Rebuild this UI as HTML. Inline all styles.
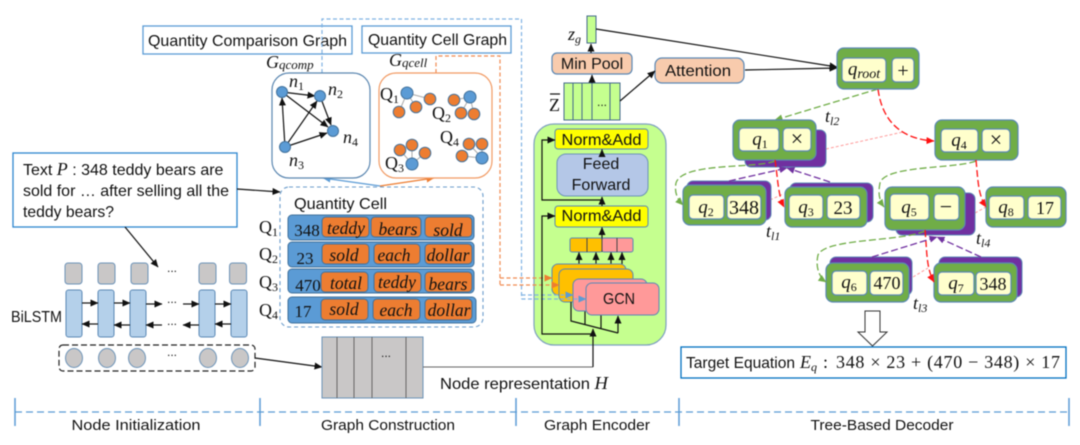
<!DOCTYPE html>
<html><head><meta charset="utf-8"><style>
html,body{margin:0;padding:0;background:#fff;width:1080px;height:445px;overflow:hidden}
svg{display:block;filter:blur(.45px)}
text{font-family:"Liberation Sans",sans-serif;fill:#111}
.t{font-size:16px}
.c{font-size:16px;text-anchor:middle}
.b{font-size:15px;text-anchor:middle}
.d{font-size:12px;text-anchor:middle}
.m{font-family:"Liberation Serif",serif;font-style:italic;font-size:18px}
.mc{font-family:"Liberation Serif",serif;font-style:italic;font-size:19px;text-anchor:middle}
.n{font-family:"Liberation Serif",serif;font-size:17px;text-anchor:middle}
.q{font-family:"Liberation Serif",serif;font-size:18px}
.s{font-size:12px;font-family:"Liberation Serif",serif}
.w{font-family:"Liberation Serif",serif;font-style:italic;font-size:17.5px;text-anchor:middle}
.o{fill:#ed7d31;stroke:#41719c;stroke-width:1}
.bl{fill:#5b9bd5;stroke:#41719c;stroke-width:1}
.g{fill:#70ad47;stroke:#5b88b5;stroke-width:1.2}
.p{fill:#7030a0;stroke:#5b88b5;stroke-width:1}
.y{fill:#ffffcc;stroke:#5b88b5;stroke-width:1.2}
.gr{fill:#c9c7c7;stroke:#6c93b8;stroke-width:1}
.lb{fill:#b4d0ea;stroke:#5b88b5;stroke-width:1}
.k{stroke:#111;stroke-width:1.2;fill:none}
.ka{stroke:#111;stroke-width:1.2;fill:none;marker-end:url(#mk)}
.ye{fill:#ffff00;stroke:#5b88b5;stroke-width:1}
.pe{fill:#f8cbad;stroke:#5b88b5;stroke-width:1.2}
.lg{fill:#c5ff8f;stroke:#44688c;stroke-width:1}
.pk{fill:#ff9999;stroke:#5b88b5;stroke-width:1}
.au{fill:#ffc000;stroke:#5b88b5;stroke-width:1}
.dg{stroke:#70ad47;stroke-width:1.3;fill:none;stroke-dasharray:7 3;marker-end:url(#mg)}
.dr{stroke:#ff1010;stroke-width:1.3;fill:none;stroke-dasharray:7 3;marker-end:url(#mr)}
.dp{stroke:#7030a0;stroke-width:1.3;fill:none;stroke-dasharray:7 3;marker-end:url(#mp)}
.dl{stroke:#ff9a9a;stroke-width:1;fill:none;stroke-dasharray:3 2}
.db{stroke:#7fb2e3;stroke-width:1.2;fill:none;stroke-dasharray:4 2.5}
.do{stroke:#f08a50;stroke-width:1.2;fill:none;stroke-dasharray:4 2.5}
</style></head><body>
<svg width="1080" height="445" viewBox="0 0 1080 445" xmlns="http://www.w3.org/2000/svg">
<defs>
<marker id="mk" markerUnits="userSpaceOnUse" markerWidth="9" markerHeight="8" refX="7.5" refY="3.5" orient="auto"><path d="M0 0L8 3.5L0 7z" fill="#111"/></marker>
<marker id="mg" markerUnits="userSpaceOnUse" markerWidth="9" markerHeight="8" refX="7.5" refY="3.5" orient="auto"><path d="M0 0L8 3.5L0 7z" fill="#70ad47"/></marker>
<marker id="mr" markerUnits="userSpaceOnUse" markerWidth="9" markerHeight="8" refX="7.5" refY="3.5" orient="auto"><path d="M0 0L8 3.5L0 7z" fill="#ff1010"/></marker>
<marker id="mp" markerUnits="userSpaceOnUse" markerWidth="9" markerHeight="8" refX="7.5" refY="3.5" orient="auto"><path d="M0 0L8 3.5L0 7z" fill="#7030a0"/></marker>
<marker id="mb" markerUnits="userSpaceOnUse" markerWidth="9" markerHeight="8" refX="7.5" refY="3.5" orient="auto"><path d="M0 0L8 3.5L0 7z" fill="#5b9bd5"/></marker>
<marker id="mo" markerUnits="userSpaceOnUse" markerWidth="9" markerHeight="8" refX="7.5" refY="3.5" orient="auto"><path d="M0 0L8 3.5L0 7z" fill="#ed7d31"/></marker>
</defs>

<!-- title boxes -->
<rect x="143" y="26" width="209" height="28" fill="none" stroke="#5b9bd5" stroke-width="1.3"/>
<text x="148" y="46" class="t" textLength="199" lengthAdjust="spacingAndGlyphs">Quantity Comparison Graph</text>
<rect x="362" y="26" width="149" height="27" fill="#fff" stroke="#5b9bd5" stroke-width="1.3"/>
<text x="368" y="45" class="t" textLength="139" lengthAdjust="spacingAndGlyphs">Quantity Cell Graph</text>

<!-- dashed connectors to GCN -->
<path class="db" d="M322 73V19H521.500V299"/>
<path class="do" d="M436 73V56H500V285"/>

<text x="266" y="68" class="m">G<tspan class="s" dy="1" style="font-size:13px;font-style:italic">qcomp</tspan></text>
<text x="389" y="66" class="m">G<tspan class="s" dy="1" style="font-size:13px;font-style:italic">qcell</tspan></text>

<path d="M380 186L323 178" stroke="#5b9bd5" stroke-width="1.2" fill="none" marker-end="url(#mb)"/>
<path d="M380 186L434 178" stroke="#ed7d31" stroke-width="1.2" fill="none" marker-end="url(#mo)"/>

<!-- graph boxes -->
<rect x="272" y="73" width="98" height="105" rx="17" fill="#fff" stroke="#5a86b0" stroke-width="1.2"/>
<rect x="379" y="73" width="113" height="105" rx="17" fill="#fff" stroke="#f19a63" stroke-width="1.2"/>
<path class="ka" d="M282 92L315 96"/>
<path class="ka" d="M282 92L328 127"/>
<path class="ka" d="M320 96L331 125"/>
<path class="ka" d="M285 147L282 98"/>
<path class="ka" d="M285 147L317 101"/>
<path class="ka" d="M285 147L327 133"/>
<circle cx="282" cy="92" r="5.500" class="bl"/><circle cx="320" cy="96" r="5.500" class="bl"/>
<circle cx="333" cy="131" r="5.500" class="bl"/><circle cx="285" cy="147" r="5.500" class="bl"/>
<text x="289" y="87" class="m">n<tspan class="s" dy="3" style="font-style:normal">1</tspan></text>
<text x="328" y="95" class="m">n<tspan class="s" dy="3" style="font-style:normal">2</tspan></text>
<text x="289" y="166" class="m">n<tspan class="s" dy="3" style="font-style:normal">3</tspan></text>
<text x="343" y="143" class="m">n<tspan class="s" dy="3" style="font-style:normal">4</tspan></text>

<g stroke="#aaa" stroke-width="1" fill="none">
<path d="M407 93L430 99M407 93L416 107M407 93L399 112"/>
<path d="M470 97L454 100M470 97L461 113M470 97L474 114"/>
<path d="M412 164L412 145M412 164L400 150M412 164L425 153"/>
<path d="M482 158L469 144M482 158L482 144M482 158L462 156"/>
</g>
<circle cx="430" cy="99" r="5.800" class="o"/><circle cx="416" cy="107" r="5.800" class="o"/><circle cx="399" cy="112" r="5.800" class="o"/>
<circle cx="454" cy="100" r="5.800" class="o"/><circle cx="461" cy="113" r="5.800" class="o"/><circle cx="474" cy="114" r="5.800" class="o"/>
<circle cx="412" cy="145" r="5.800" class="o"/><circle cx="400" cy="150" r="5.800" class="o"/><circle cx="425" cy="153" r="5.800" class="o"/>
<circle cx="469" cy="144" r="5.800" class="o"/><circle cx="482" cy="144" r="5.800" class="o"/><circle cx="462" cy="156" r="5.800" class="o"/>
<circle cx="407" cy="93" r="6" class="bl"/><circle cx="470" cy="97" r="6" class="bl"/><circle cx="412" cy="164" r="6" class="bl"/><circle cx="482" cy="158" r="6" class="bl"/>
<text x="380" y="100" class="q">Q<tspan class="s" dy="3">1</tspan></text>
<text x="432" y="119" class="q">Q<tspan class="s" dy="3">2</tspan></text>
<text x="385" y="169" class="q">Q<tspan class="s" dy="3">3</tspan></text>
<text x="440" y="143" class="q">Q<tspan class="s" dy="3">4</tspan></text>

<!-- text box -->
<rect x="13" y="153" width="224" height="74" fill="#fff" stroke="#2e86cf" stroke-width="1.3"/>
<text x="23" y="175" class="t">Text <tspan class="m">P</tspan> : 348 teddy bears are</text>
<text x="23" y="196" class="t" textLength="206" lengthAdjust="spacingAndGlyphs">sold for … after selling all the</text>
<text x="23" y="217" class="t" textLength="91" lengthAdjust="spacingAndGlyphs">teddy bears?</text>
<path class="ka" d="M237 189L280 192"/>
<path class="ka" d="M125 227L158 267"/>

<!-- BiLSTM -->
<rect x="65" y="263" width="17" height="21" rx="3" class="gr"/><rect x="98" y="263" width="17" height="21" rx="3" class="gr"/><rect x="131" y="263" width="17" height="21" rx="3" class="gr"/><rect x="199" y="263" width="17" height="21" rx="3" class="gr"/><rect x="229.500" y="263" width="17" height="21" rx="3" class="gr"/>
<rect x="66" y="290" width="16" height="47" rx="2.500" class="lb"/><rect x="98" y="290" width="16" height="47" rx="2.500" class="lb"/><rect x="130" y="290" width="16" height="47" rx="2.500" class="lb"/><rect x="199" y="290" width="16" height="47" rx="2.500" class="lb"/><rect x="231" y="290" width="16" height="47" rx="2.500" class="lb"/>
<path class="ka" d="M82 303L98 303"/><path class="ka" d="M114 303L130 303"/><path class="ka" d="M146 304L162 304"/><path class="ka" d="M183 304L199 304"/><path class="ka" d="M215 304L231 304"/>
<path class="ka" d="M98 324L82 324"/><path class="ka" d="M130 325L114 325"/><path class="ka" d="M162 325L146 325"/><path class="ka" d="M199 325L183 325"/><path class="ka" d="M231 324L215 324"/>
<text x="172" y="272" class="d">...</text><text x="172" y="303" class="d">...</text><text x="172" y="325" class="d">...</text><text x="172" y="356" class="d">...</text>
<text x="11" y="322" class="t" textLength="51" lengthAdjust="spacingAndGlyphs">BiLSTM</text>
<rect x="59" y="345" width="196" height="26" rx="4" fill="none" stroke="#222" stroke-width="1.2" stroke-dasharray="6 3"/>
<ellipse cx="74" cy="358" rx="8.500" ry="9.500" class="gr"/><ellipse cx="107" cy="358" rx="8.500" ry="9.500" class="gr"/><ellipse cx="137" cy="358" rx="8.500" ry="9.500" class="gr"/><ellipse cx="208" cy="358" rx="8.500" ry="9.500" class="gr"/><ellipse cx="240" cy="358" rx="8.500" ry="9.500" class="gr"/>
<path class="ka" d="M255 358L322 367"/>

<!-- Quantity Cell -->
<rect x="280" y="187" width="203" height="140" rx="9" fill="#fff" stroke="#6b9ccb" stroke-width="1.1" stroke-dasharray="4 3"/>
<text x="294" y="209" class="t" textLength="93" lengthAdjust="spacingAndGlyphs">Quantity Cell</text>
<text x="259" y="233" class="q">Q<tspan class="s" dy="3">1</tspan></text>
<text x="259" y="260" class="q">Q<tspan class="s" dy="3">2</tspan></text>
<text x="259" y="288" class="q">Q<tspan class="s" dy="3">3</tspan></text>
<text x="259" y="316" class="q">Q<tspan class="s" dy="3">4</tspan></text>
<rect x="288" y="215" width="186" height="25" rx="4" class="bl"/>
<rect x="288" y="242" width="186" height="25" rx="4" class="bl"/>
<rect x="288" y="269" width="186" height="24" rx="4" class="bl"/>
<rect x="288" y="297" width="188" height="26" rx="4" class="bl"/>
<rect x="322" y="217" width="47" height="20" rx="4" class="o"/><rect x="371" y="217" width="50" height="20" rx="4" class="o"/><rect x="425" y="217" width="47" height="20" rx="4" class="o"/>
<rect x="322" y="244" width="47" height="20" rx="4" class="o"/><rect x="374" y="244" width="46" height="20" rx="4" class="o"/><rect x="425" y="244" width="47" height="20" rx="4" class="o"/>
<rect x="321" y="272" width="47" height="20" rx="4" class="o"/><rect x="374" y="272" width="47" height="20" rx="4" class="o"/><rect x="425" y="272" width="47" height="20" rx="4" class="o"/>
<rect x="321" y="299" width="47" height="21" rx="4" class="o"/><rect x="373" y="299" width="47" height="21" rx="4" class="o"/><rect x="425" y="299" width="47" height="21" rx="4" class="o"/>
<text x="307" y="236" class="n">348</text><text x="305" y="264" class="n">23</text><text x="308" y="291" class="n">470</text><text x="303" y="317" class="n">17</text>
<text x="346" y="234" class="w">teddy</text><text x="398" y="235" class="w">bears</text><text x="448" y="236" class="w">sold</text>
<text x="344" y="261" class="w">sold</text><text x="394" y="261" class="w">each</text><text x="448" y="261" class="w">dollar</text>
<text x="346" y="289" class="w">total</text><text x="397" y="288" class="w">teddy</text><text x="448" y="290" class="w">bears</text>
<text x="344" y="315" class="w">sold</text><text x="396" y="316" class="w">each</text><text x="449" y="316" class="w">dollar</text>

<!-- Node representation -->
<rect x="322" y="337" width="101" height="61" fill="#c9c7c7" stroke="#6c93b8" stroke-width="1"/>
<path d="M337 337V398M354 337V398M372 337V398M406 337V398" stroke="#666" stroke-width="1" fill="none"/>
<text x="386" y="357" class="d">...</text>
<text x="440" y="389" class="t" textLength="168" lengthAdjust="spacingAndGlyphs">Node representation <tspan class="m">H</tspan></text>
<path d="M423 367H593" stroke="#666" stroke-width="1" fill="none"/>

<!-- Encoder -->
<rect x="534" y="124" width="132" height="221" rx="20" fill="#c5ff8f" stroke="#7d9fc0" stroke-width="1.2"/>
<rect x="555" y="129" width="93" height="20" rx="3" class="ye"/>
<text x="601.500" y="145" class="c" textLength="80" lengthAdjust="spacingAndGlyphs">Norm&amp;Add</text>
<rect x="557" y="154" width="91" height="42" rx="9" fill="#b4c7e7" stroke="#6c93b8"/>
<text x="601" y="169" class="c">Feed</text>
<text x="601" y="190" class="c">Forward</text>
<rect x="555" y="206" width="93" height="21" rx="3" class="ye"/>
<text x="601.500" y="221" class="c" textLength="80" lengthAdjust="spacingAndGlyphs">Norm&amp;Add</text>
<rect x="570" y="238" width="32" height="14" rx="2" class="au"/>
<rect x="602" y="238" width="31" height="14" rx="2" class="pk"/>
<path d="M587 238V252M602 238V252M617 238V252" stroke="#444" stroke-width="1" fill="none"/>
<path class="ka" d="M579 264V252.500"/><path class="ka" d="M596 264V252.500"/><path class="ka" d="M611 279V252.500"/><path class="ka" d="M622 283V252.500"/>
<rect x="552" y="264" width="74" height="31" rx="6" class="au"/>
<path class="do" d="M500 278H545"/>
<path d="M545 278H552" stroke="#ed7d31" stroke-width="1.2" fill="none" marker-end="url(#mo)"/>
<rect x="559" y="269" width="74" height="33" rx="6" class="au"/>
<path class="do" d="M500 285H552"/>
<path d="M552 285H559" stroke="#ed7d31" stroke-width="1.2" fill="none" marker-end="url(#mo)"/>
<path class="k" d="M571 302V321L618 333M585 311V325M601 315V329"/>
<rect x="573" y="279" width="74" height="32" rx="6" class="pk"/>
<path class="db" d="M521.500 295H566"/>
<path d="M566 295H573" stroke="#5b9bd5" stroke-width="1.2" fill="none" marker-end="url(#mb)"/>
<rect x="586" y="283" width="73" height="32" rx="6" class="pk"/>
<path class="db" d="M521.500 299H579"/>
<path d="M579 299H586" stroke="#5b9bd5" stroke-width="1.2" fill="none" marker-end="url(#mb)"/>
<text x="619" y="304" class="c" textLength="32" lengthAdjust="spacingAndGlyphs">GCN</text>
<path class="ka" d="M618 333V316"/>
<path class="ka" d="M593 367V329"/>
<path class="ka" d="M593 334H542V216H555"/>
<path class="ka" d="M602 206V197"/>
<path class="ka" d="M602 154V149.500"/>
<path class="ka" d="M602 238V227.500"/>
<path class="ka" d="M602 200H542V140H555"/>

<!-- Top encoder outputs -->
<rect x="564" y="83" width="56" height="37" class="lg"/>
<path d="M573 83V120M582 83V120M592 83V120M610 83V120" stroke="#44688c" stroke-width="1" fill="none"/>
<text x="602" y="106" class="d">...</text>
<text x="549" y="111" style="font-family:'Liberation Serif',serif;font-size:18px">Z</text>
<path d="M550 94H560" stroke="#111" stroke-width="1.2"/>
<path class="ka" d="M592 83V75"/>
<rect x="552" y="53" width="80" height="21" rx="5" class="pe"/>
<text x="592" y="69" class="c">Min Pool</text>
<path class="ka" d="M591 53V44"/>
<rect x="587" y="16" width="9" height="27" class="lg"/>
<text x="568" y="40" class="m">z<tspan class="s" dy="3" style="font-style:italic">g</tspan></text>
<rect x="655" y="58" width="89" height="25" rx="7" class="pe"/>
<text x="698" y="76" class="c" textLength="66" lengthAdjust="spacingAndGlyphs">Attention</text>
<path class="ka" d="M620 101L655 71"/>
<path class="ka" d="M596 29L837 67"/>
<path class="ka" d="M745 70L837 68"/>

<!-- Tree connectors -->
<path class="dl" d="M826 149L903 132"/>
<path class="dl" d="M770 200L783 194"/>
<path class="dl" d="M975 213L986 207"/>
<path class="dl" d="M913 277L928 268"/>
<path class="dg" d="M878 89L775 120"/>
<path class="dr" d="M878 89C882 120 900 139 934 141"/>

<!-- Tree nodes -->
<rect x="745" y="130" width="81" height="37" rx="6" class="p"/>
<rect x="733" y="120" width="83" height="40" rx="7" class="g"/>
<rect x="739" y="128" width="40" height="23" rx="4" class="y"/><rect x="783" y="128" width="28" height="23" rx="4" class="y"/>
<text x="760" y="145" class="mc">q<tspan class="s" dy="3" style="font-style:normal">1</tspan></text><text x="797" y="146" class="n" style="font-size:22px">×</text>

<rect x="935" y="120" width="83" height="40" rx="7" class="g"/>
<rect x="941" y="129" width="37" height="23" rx="4" class="y"/><rect x="982" y="129" width="28" height="23" rx="4" class="y"/>
<text x="959" y="146" class="mc">q<tspan class="s" dy="3" style="font-style:normal">4</tspan></text><text x="996" y="147" class="n" style="font-size:22px">×</text>

<rect x="837" y="48" width="82" height="41" rx="7" class="g"/>
<rect x="842" y="58" width="44" height="24" rx="4" class="y"/><rect x="892" y="58" width="22" height="24" rx="4" class="y"/>
<text x="864" y="75" class="mc">q<tspan class="s" dy="3" style="font-size:14px;font-style:italic">root</tspan></text><text x="903" y="77" class="n" style="font-size:20px">+</text>

<rect x="687" y="181" width="84" height="39" rx="6" class="p"/>
<rect x="683" y="185" width="83" height="40" rx="7" class="g"/>
<rect x="689" y="195" width="35" height="24" rx="4" class="y"/><rect x="727" y="195" width="34" height="24" rx="4" class="y"/>
<text x="706" y="213" class="mc">q<tspan class="s" dy="3" style="font-style:normal">2</tspan></text><text x="744" y="214" class="n" style="font-size:20px">348</text>

<rect x="790" y="183" width="83" height="39" rx="6" class="p"/>
<rect x="785" y="187" width="82" height="40" rx="7" class="g"/>
<rect x="789" y="195" width="34" height="24" rx="4" class="y"/><rect x="827" y="195" width="33" height="24" rx="4" class="y"/>
<text x="806" y="213" class="mc">q<tspan class="s" dy="3" style="font-style:normal">3</tspan></text><text x="843" y="214" class="n" style="font-size:19px">23</text>

<rect x="896" y="193" width="79" height="42" rx="6" class="p"/>
<rect x="885" y="187" width="80" height="43" rx="7" class="g"/>
<rect x="890" y="194" width="39" height="26" rx="4" class="y"/><rect x="934" y="194" width="25" height="26" rx="4" class="y"/>
<text x="909" y="213" class="mc">q<tspan class="s" dy="3" style="font-style:normal">5</tspan></text><text x="946" y="214" class="n" style="font-size:22px">−</text>

<rect x="986" y="187" width="80" height="40" rx="7" class="g"/>
<rect x="989" y="196" width="35" height="23" rx="4" class="y"/><rect x="1028" y="196" width="33" height="23" rx="4" class="y"/>
<text x="1006" y="213" class="mc">q<tspan class="s" dy="3" style="font-style:normal">8</tspan></text><text x="1045" y="214" class="n" style="font-size:18px">17</text>

<rect x="830" y="257" width="82" height="38" rx="6" class="p"/>
<rect x="826" y="263" width="83" height="39" rx="7" class="g"/>
<rect x="832" y="271" width="35" height="24" rx="4" class="y"/><rect x="870" y="271" width="33" height="24" rx="4" class="y"/>
<text x="849" y="288" class="mc">q<tspan class="s" dy="3" style="font-style:normal">6</tspan></text><text x="887" y="289" class="n" style="font-size:18px">470</text>

<rect x="939" y="257" width="83" height="40" rx="6" class="p"/>
<rect x="934" y="263" width="83" height="39" rx="7" class="g"/>
<rect x="938" y="272" width="36" height="23" rx="4" class="y"/><rect x="976" y="272" width="35" height="23" rx="4" class="y"/>
<text x="956" y="289" class="mc">q<tspan class="s" dy="3" style="font-style:normal">7</tspan></text><text x="993" y="290" class="n" style="font-size:18px">348</text>

<!-- Tree connectors over -->
<path class="dg" d="M775 161C755 169 682 162 676 183C674 193 678 200 683 205"/>
<path class="dr" d="M775 160C778 180 778 195 784 207"/>
<path class="dp" d="M729 181L787 168"/>
<path class="dp" d="M830 182L787 168"/>
<path class="dg" d="M976 161C956 169 885 165 880 183C878 193 879 200 884 207"/>
<path class="dr" d="M976 160C978 180 978 195 986 207"/>
<path class="dg" d="M925 231C900 242 825 238 818 255C815 268 820 278 826 282"/>
<path class="dr" d="M925 230C927 250 926 268 934 282"/>
<path class="dp" d="M872 257L937 237"/>
<path class="dp" d="M981 257L937 237"/>

<text x="825" y="122" class="m">t<tspan class="s" dy="3" style="font-style:italic">l2</tspan></text>
<text x="766" y="237" class="m">t<tspan class="s" dy="3" style="font-style:italic">l1</tspan></text>
<text x="976" y="244" class="m">t<tspan class="s" dy="3" style="font-style:italic">l4</tspan></text>
<text x="913" y="309" class="m">t<tspan class="s" dy="3" style="font-style:italic">l3</tspan></text>

<!-- hollow arrow -->
<path d="M865 311H880V332H887L872.500 346L858 332H865z" fill="#fff" stroke="#333" stroke-width="1"/>
<rect x="681" y="347" width="385" height="31" fill="#fff" stroke="#0070c0" stroke-width="1.3"/>
<text x="686" y="368" class="t" textLength="109" lengthAdjust="spacingAndGlyphs">Target Equation</text>
<text x="800" y="368" class="m">E<tspan class="s" dy="3" style="font-style:italic">q</tspan></text>
<text x="823" y="368" class="q">:</text>
<text x="836" y="368" class="q" textLength="224" lengthAdjust="spacing">348 × 23 + (470 − 348) × 17</text>

<!-- Bottom brackets -->
<path d="M15 412H1069" stroke="#5b9bd5" stroke-width="1.2" stroke-dasharray="7 4" fill="none"/>
<path d="M15 398V426M260 398V426M516 398V426M679 398V426M1069 398V426" stroke="#5b9bd5" stroke-width="1.5" fill="none"/>
<text x="136" y="430" class="b" textLength="129" lengthAdjust="spacingAndGlyphs">Node Initialization</text>
<text x="388" y="430" class="b" textLength="134" lengthAdjust="spacingAndGlyphs">Graph Construction</text>
<text x="597" y="430" class="b" textLength="106" lengthAdjust="spacingAndGlyphs">Graph Encoder</text>
<text x="882" y="430" class="b" textLength="143" lengthAdjust="spacingAndGlyphs">Tree-Based Decoder</text>
</svg>
</body></html>
